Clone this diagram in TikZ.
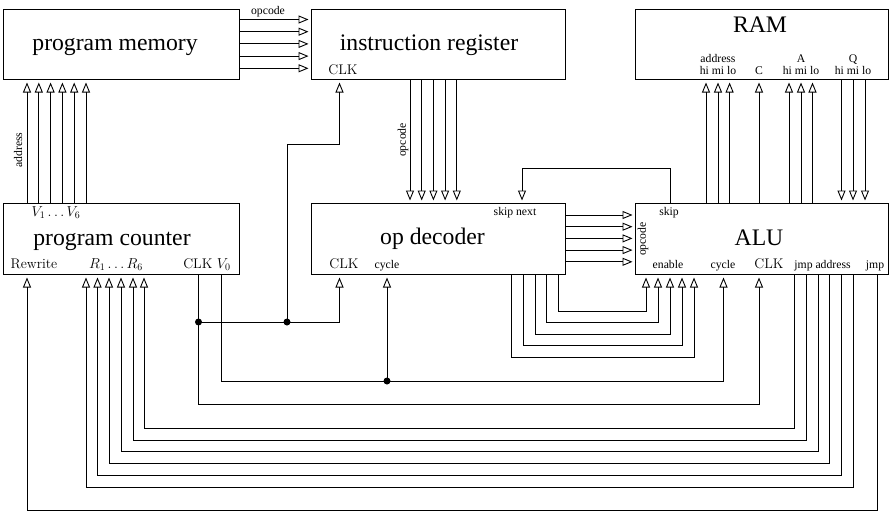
\documentclass[tikz,border=0pt]{standalone}
\usepackage{fontspec}
\newfontfamily\tms{Liberation Serif}
\usetikzlibrary{arrows.meta,calc}
\begin{document}
\begin{tikzpicture}[x=1pt,y=-1pt,
  box/.style={draw, line width=1pt, rectangle, inner sep=0pt, anchor=north west},
  wire/.style={line width=1pt},
  arr/.style={wire, -{Triangle[open, length=10pt, width=8pt, line width=0.9pt]}, shorten >=2.5pt},
  biglab/.style={font=\tms\fontsize{23.7}{28}\selectfont, inner sep=0pt, anchor=base},
  smlab/.style={font=\tms\fontsize{11.7}{14}\selectfont, inner sep=0pt, anchor=base},
  lmlab/.style={font=\fontsize{14}{16}\selectfont\addfontfeatures{LetterSpace=5}, inner sep=0pt, anchor=base},
  jdot/.style={circle, fill, inner sep=0pt, minimum size=7pt}]
\useasboundingbox (0,0) rectangle (895,514);

% boxes
\node[box, minimum width=236pt, minimum height=70pt] (pm) at (3,9) {};
\node[box, minimum width=254pt, minimum height=70pt] (ir) at (311,9) {};
\node[box, minimum width=253pt, minimum height=70pt] (ram) at (635,9) {};
\node[box, minimum width=236pt, minimum height=71pt] (pc) at (3,203) {};
\node[box, minimum width=254pt, minimum height=71pt] (od) at (311,203) {};
\node[box, minimum width=253pt, minimum height=71pt] (alu) at (635,203) {};

% box titles
\node[biglab] (pmt) at (115,50.5) {program memory};
\node[biglab] (irt) at (429,50.5) {instruction register};
\node[biglab] (ramt) at (760,32.3) {RAM};
\node[biglab] (pct) at (112,245) {program counter};
\node[biglab] (odt) at (432.5,244) {op decoder};
\node[biglab] (alut) at (759,245) {ALU};

% port labels
\node[smlab] (opl) at (268,14) {opcode};
\node[lmlab] (irclk) at (343,74) {CLK};
\node[smlab] (ramad) at (718,62) {address};
\node[smlab] (ramadb) at (718,74) {hi mi lo};
\node[smlab] (ramc) at (759,74) {C};
\node[smlab] (rama) at (801,62) {A};
\node[smlab] (ramab) at (801,74) {hi mi lo};
\node[smlab] (ramq) at (853,62) {Q};
\node[smlab] (ramqb) at (853,74) {hi mi lo};
\node[lmlab] (pcv) at (56,216) {$V_1\ldots V_6$};
\node[lmlab] (pcrw) at (34,268.7) {Rewrite};
\node[lmlab] (pcr) at (116,268.7) {$R_1\ldots R_6$};
\node[lmlab] (pcclk) at (207,268.7) {CLK $V_0$};
\node[smlab] (odskip) at (515,215) {skip next};
\node[lmlab] (odclk) at (344,268) {CLK};
\node[smlab] (odcyc) at (387,268) {cycle};
\node[smlab] (aluskip) at (669,215) {skip};
\node[smlab, anchor=center, rotate=90] (aluop) at (643,239) {opcode};
\node[smlab] (aluen) at (668,268) {enable};
\node[smlab] (alucyc) at (723,268) {cycle};
\node[lmlab] (aluclk) at (769,268) {CLK};
\node[smlab] (alujad) at (822.5,268) {jmp address};
\node[smlab] (alujmp) at (875,268) {jmp};
\node[smlab, anchor=center, rotate=90] (addrl) at (18,150) {address};
\node[smlab, anchor=center, rotate=90] (opl2) at (403,140) {opcode};

% program counter -> program memory
\foreach \x in {27,38.8,50.6,62.4,74.2,86}
  \draw[arr] (\x,0 |- pc.north) -- (\x,0 |- pm.south);
% program memory -> instruction register
\foreach \y in {19.5,31.7,43.9,56.1,68.3}
  \draw[arr] (pm.east |- 0,\y) -- (ir.west |- 0,\y);
% instruction register -> op decoder
\foreach \x in {410,421.7,433.4,445.1,456.8}
  \draw[arr] (\x,0 |- ir.south) -- (\x,0 |- od.north);
% op decoder -> ALU
\foreach \y in {215,226.7,238.4,250.1,261.8}
  \draw[arr] (od.east |- 0,\y) -- (alu.west |- 0,\y);
% skip
\draw[arr] (670,0 |- alu.north) -- (670,168) -- (522,168) -- (522,0 |- od.north);
% ALU -> RAM
\foreach \x in {706,718,729.6,759,789,801,812.5}
  \draw[arr] (\x,0 |- alu.north) -- (\x,0 |- ram.south);
% RAM -> ALU
\foreach \x in {841.5,853,865}
  \draw[arr] (\x,0 |- ram.south) -- (\x,0 |- alu.north);
% enable loops
\foreach \a/\b/\y in {558/646/311, 546.5/658/322.5, 535/670/334, 523/682/345.5, 511.5/694/357}
  \draw[arr] (\a,0 |- od.south) -- (\a,\y) -- (\b,\y) -- (\b,0 |- alu.south);

% clock
\coordinate (j1) at (198.5,322);
\coordinate (j2) at (287,322);
\coordinate (j3) at (387,381);
\draw[arr] (198.5,0 |- pc.south) -- (198.5,404) -- (759,404) -- (759,0 |- alu.south);
\draw[arr] (j1) -- (339.5,322) -- (339.5,0 |- od.south);
\draw[arr] (j2) -- (287,144) -- (339.5,144) -- (339.5,0 |- ir.south);
% V0 -> cycle
\draw[arr] (221,0 |- pc.south) -- (221,381) -- (723.5,381) -- (723.5,0 |- alu.south);
\draw[arr] (j3) -- (387,0 |- od.south);

% jmp address -> R
\foreach \a/\b/\y in {794.5/144/428, 806.5/133/440, 818/121/451, 829.5/109/463, 841.5/97.5/475, 853/86/487}
  \draw[arr] (\a,0 |- alu.south) -- (\a,\y) -- (\b,\y) -- (\b,0 |- pc.south);
% jmp -> Rewrite
\draw[arr] (877,0 |- alu.south) -- (877,510) -- (27,510) -- (27,0 |- pc.south);

% junction dots
\node[jdot] (d1) at (j1) {};
\node[jdot] (d2) at (j2) {};
\node[jdot] (d3) at (j3) {};
\end{tikzpicture}
\end{document}
